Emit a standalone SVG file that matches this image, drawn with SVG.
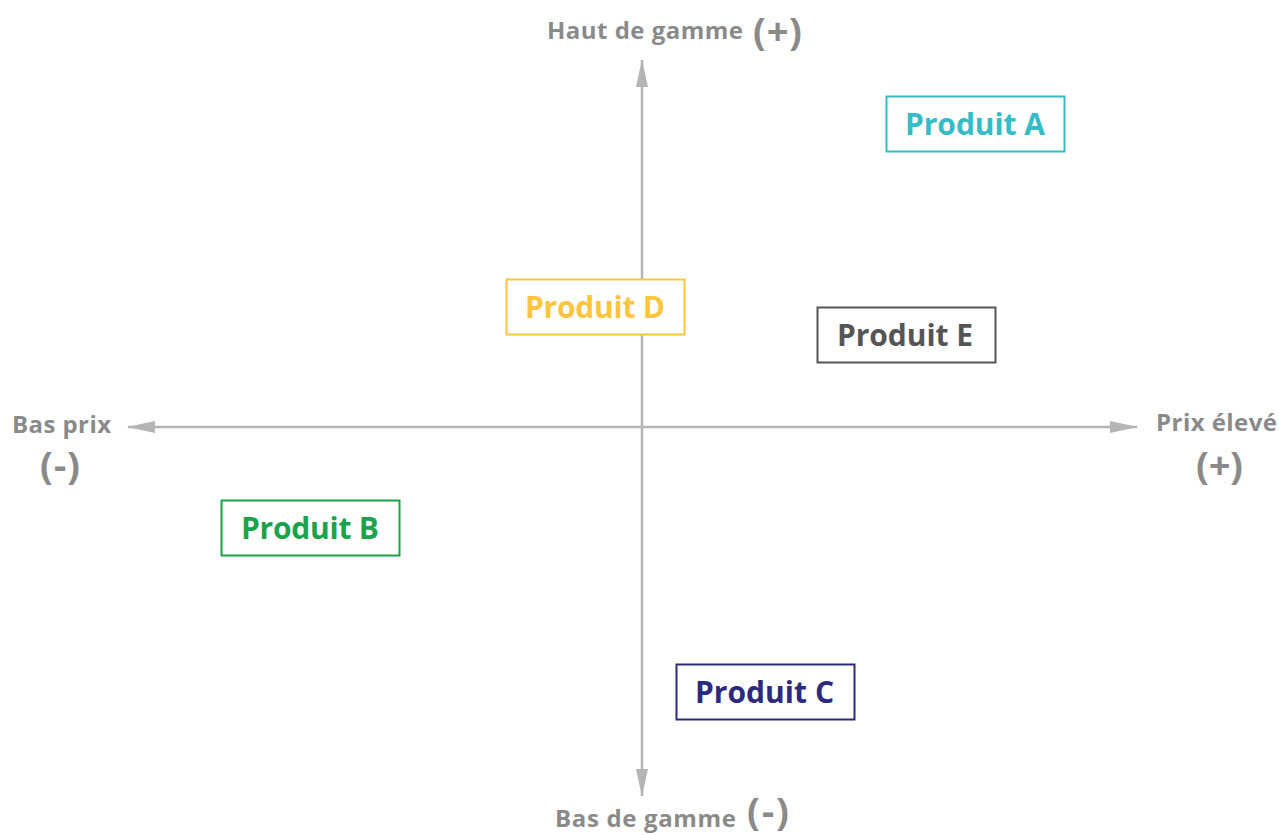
<svg xmlns="http://www.w3.org/2000/svg" width="1279" height="835" viewBox="0 0 1279 835">
<style>
.ax{stroke:#b5b5b5;stroke-width:2.5;fill:none}
.lbl{font-family:"Open Sans",Lato,sans-serif;font-weight:bold;fill:#8a8a8a;font-size:24px}
.par{font-family:"Open Sans",Lato,sans-serif;font-weight:bold;fill:#8a8a8a;font-size:38px}
.box{fill:#fff;stroke-width:2}
.pt{font-family:"Open Sans",Lato,sans-serif;font-weight:bold;font-size:30px}
</style>
<defs>
<marker id="ah2" markerWidth="28" markerHeight="12" refX="27" refY="6" orient="auto" markerUnits="userSpaceOnUse" viewBox="0 0 28 12">
<path d="M0,0 L28,6 L0,12 Z" fill="#b5b5b5"/>
</marker>
</defs>
<rect width="1279" height="835" fill="#fff"/>
<g id="connectors">
<line class="ax" x1="642" y1="427" x2="642" y2="60" marker-end="url(#ah2)"/>
<line class="ax" x1="642" y1="427" x2="642" y2="796" marker-end="url(#ah2)"/>
<line class="ax" x1="642" y1="427" x2="128" y2="427" marker-end="url(#ah2)"/>
<line class="ax" x1="642" y1="427" x2="1137" y2="427" marker-end="url(#ah2)"/>
</g>
<g id="axis-labels">
<text class="lbl" x="547" y="39" textLength="196">Haut de gamme</text>
<text class="par" x="753" y="45" textLength="49">(+)</text>
<text class="lbl" x="555" y="827" textLength="181">Bas de gamme</text>
<text class="par" x="747" y="825" textLength="42">(-)</text>
<text class="lbl" x="12" y="433" textLength="99">Bas prix</text>
<text class="par" x="40" y="479" textLength="40">(-)</text>
<text class="lbl" x="1156" y="431" textLength="121">Prix élevé</text>
<text class="par" x="1196" y="479" textLength="47">(+)</text>
</g>
<g id="produit-a">
<rect class="box" x="886.5" y="96.5" width="178" height="55" stroke="#35bcc6"/>
<text class="pt" x="905" y="135" textLength="140" fill="#35bcc6">Produit A</text>
</g>
<g id="produit-d">
<rect class="box" x="506.5" y="279.5" width="178" height="55" stroke="#fcc53d"/>
<text class="pt" x="525" y="318" textLength="140" fill="#fcc53d">Produit D</text>
</g>
<g id="produit-e">
<rect class="box" x="817.5" y="307.5" width="178" height="55" stroke="#555555"/>
<text class="pt" x="837" y="346" textLength="136" fill="#555555">Produit E</text>
</g>
<g id="produit-b">
<rect class="box" x="221.5" y="500.5" width="178" height="55" stroke="#1ba34b"/>
<text class="pt" x="241" y="539" textLength="138" fill="#1ba34b">Produit B</text>
</g>
<g id="produit-c">
<rect class="box" x="676.5" y="664.5" width="178" height="55" stroke="#2c2a7c"/>
<text class="pt" x="695" y="703" textLength="139" fill="#2c2a7c">Produit C</text>
</g>
</svg>
